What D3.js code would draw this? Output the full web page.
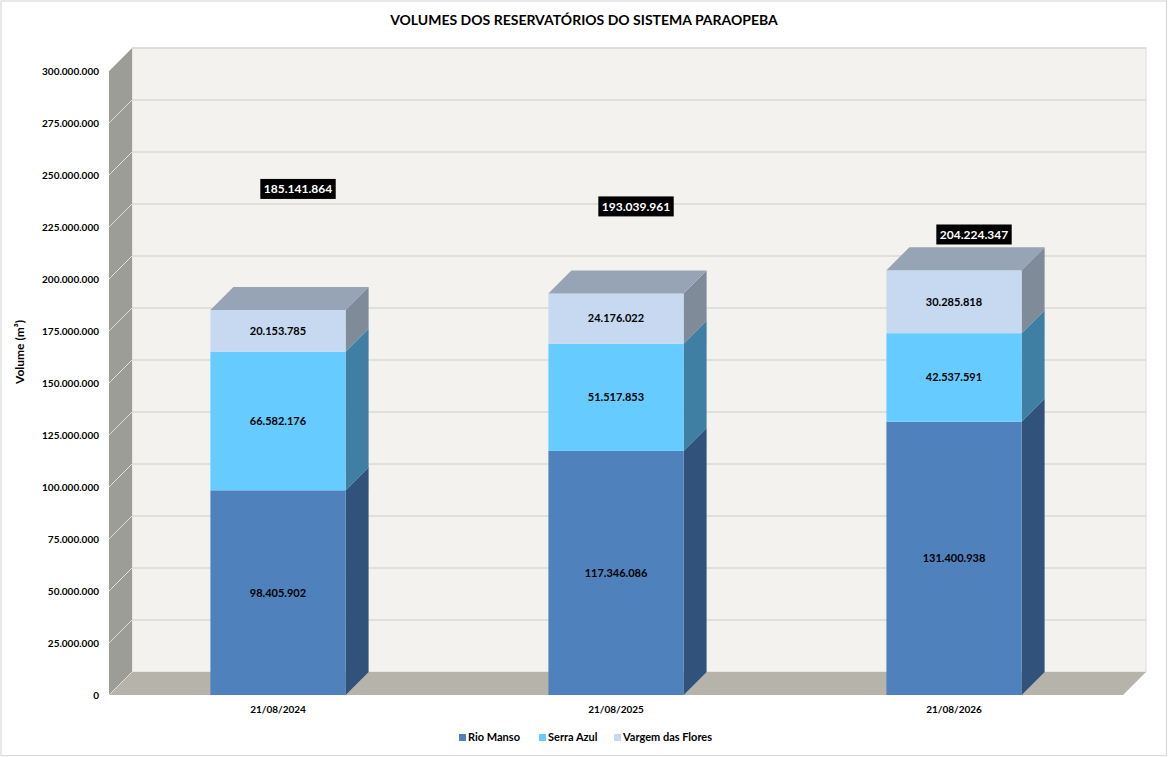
<!DOCTYPE html>
<html>
<head>
<meta charset="utf-8">
<script src="https://cdn.jsdelivr.net/npm/d3@7/dist/d3.min.js"></script>
<style>
  html, body { margin: 0; padding: 0; background: #fff; }
  svg { display: block; font-family: Lato, "Open Sans", sans-serif; }
</style>
</head>
<body>
<svg id="chart" width="1168" height="757"></svg>
<script>
// ---- data ----
const categories = ["21/08/2024", "21/08/2025", "21/08/2026"];
const seriesNames = ["Rio Manso", "Serra Azul", "Vargem das Flores"];
const rioManso = [98405902, 117346086, 131400938];
const serraAzul = [66582176, 51517853, 42537591];
const vargemDasFlores = [20153785, 24176022, 30285818];
const totals = [185141864, 193039961, 204224347];
const yTicks = [0, 25000000, 50000000, 75000000, 100000000, 125000000, 150000000, 175000000, 200000000, 225000000, 250000000, 275000000, 300000000];
// anchor levels (in axis units) where the floating total labels sit
const totalLabelLevels = [243300000, 234900000, 221400000];

(function () {
// ---- layout / style ----
const W = 1168, H = 757;
const pLeft = 109, pRight = 1123, pBottom = 695, pTop = 71;
const DX = 23, DY = 23;
const frontColors = ["#4F81BD", "#66CCFF", "#C6D9F1"];
const sideColors  = ["#31527A", "#3F7FA4", "#7F8B98"];
const topColor = "#97A4B6";
const fmt = v => d3.format(",")(v).replace(/,/g, ".");
const pts = arr => arr.map(p => p.join(",")).join(" ");

const svg = d3.select("#chart");
const stackInput = categories.map((c, i) => ({cat: c, s0: rioManso[i], s1: serraAzul[i], s2: vargemDasFlores[i]}));
const stacked = d3.stack().keys(["s0", "s1", "s2"])(stackInput);

const y = d3.scaleLinear().domain([0, 300000000]).range([pBottom, pTop]);
const x = d3.scaleBand().domain(categories).range([pLeft, pRight]).paddingInner(0.6).paddingOuter(0.3);

// outer border
svg.append("rect").attr("x", 1).attr("y", 1).attr("width", W - 2.5).attr("height", H - 2.5)
  .attr("fill", "#fff").attr("stroke", "#D9D9D9").attr("stroke-width", 1.2);

// title
svg.append("text").attr("x", 584).attr("y", 25).attr("text-anchor", "middle")
  .attr("font-size", 14).attr("font-weight", "bold").attr("fill", "#000")
  .text("VOLUMES DOS RESERVATÓRIOS DO SISTEMA PARAOPEBA");

// back wall
svg.append("rect").attr("x", pLeft + DX).attr("y", y(300000000) - DY)
  .attr("width", pRight - pLeft).attr("height", y(0) - y(300000000))
  .attr("fill", "#F3F2EE").attr("stroke", "#DCDBD7").attr("stroke-width", 1);

// gridlines back wall
svg.append("g").selectAll("line").data(yTicks.slice(1)).join("line")
  .attr("x1", pLeft + DX).attr("x2", pRight + DX)
  .attr("y1", d => y(d) - DY).attr("y2", d => y(d) - DY)
  .attr("stroke", "#D9D9D6").attr("stroke-width", 1.3);

// left wall
svg.append("polygon")
  .attr("points", pts([[pLeft, y(300000000)], [pLeft + DX, y(300000000) - DY], [pLeft + DX, y(0) - DY], [pLeft, y(0)]]))
  .attr("fill", "#9D9D98");
svg.append("g").selectAll("line").data(yTicks.slice(1)).join("line")
  .attr("x1", pLeft).attr("x2", pLeft + DX)
  .attr("y1", d => y(d)).attr("y2", d => y(d) - DY)
  .attr("stroke", "#DEDDD9").attr("stroke-width", 1);

// floor
svg.append("polygon")
  .attr("points", pts([[pLeft, y(0)], [pLeft + DX, y(0) - DY], [pRight + DX, y(0) - DY], [pRight, y(0)]]))
  .attr("fill", "#B6B3AB");
svg.append("line").attr("x1", pLeft).attr("x2", pLeft + DX).attr("y1", y(0)).attr("y2", y(0) - DY)
  .attr("stroke", "#DEDDD9").attr("stroke-width", 1);

// y tick labels
svg.append("g").selectAll("text").data(yTicks).join("text")
  .attr("x", 99).attr("y", d => y(d)).attr("dy", "0.35em").attr("text-anchor", "end")
  .attr("font-size", 10).attr("font-weight", "bold").attr("fill", "#000")
  .text(d => fmt(d));

// y axis title
svg.append("text").attr("transform", "translate(24,352) rotate(-90)").attr("text-anchor", "middle")
  .attr("font-size", 12).attr("font-weight", "bold").attr("fill", "#000")
  .text("Volume (m³)");

// bars
const bw = x.bandwidth();
const gBars = svg.append("g");
categories.forEach((c, i) => {
  const x0 = x(c), x1 = x0 + bw;
  stacked.forEach((layer, k) => {
    const d = layer[i];
    const yb = y(d[0]), yt = y(d[1]);
    gBars.append("polygon")
      .attr("points", pts([[x1, yt], [x1 + DX, yt - DY], [x1 + DX, yb - DY], [x1, yb]]))
      .attr("fill", sideColors[k]);
    gBars.append("rect").attr("x", x0).attr("y", yt).attr("width", bw).attr("height", yb - yt)
      .attr("fill", frontColors[k]);
  });
  const yTopBar = y(stacked[stacked.length - 1][i][1]);
  gBars.append("polygon")
    .attr("points", pts([[x0, yTopBar], [x0 + DX, yTopBar - DY], [x1 + DX, yTopBar - DY], [x1, yTopBar]]))
    .attr("fill", topColor);
  stacked.forEach((layer, k) => {
    const d = layer[i];
    gBars.append("text").attr("x", x0 + bw / 2).attr("y", (y(d[0]) + y(d[1])) / 2).attr("dy", "0.35em")
      .attr("text-anchor", "middle").attr("font-size", 11).attr("font-weight", "bold").attr("fill", "#000")
      .text(fmt(d.data["s" + k]));
  });
});

// total labels
const totalG = svg.append("g");
categories.forEach((c, i) => {
  const cx = x(c) + bw / 2 + 20, cy = y(totalLabelLevels[i]);
  const t = totalG.append("text").attr("x", cx).attr("y", cy).attr("dy", "0.36em").attr("text-anchor", "middle")
    .attr("font-size", 12).attr("font-weight", "bold").attr("fill", "#fff").text(fmt(totals[i]));
  const bb = t.node().getBBox();
  totalG.insert("rect", "text").attr("x", bb.x - 3.5).attr("y", cy - 10).attr("width", bb.width + 7).attr("height", 20)
    .attr("fill", "#000");
});

// x labels
svg.append("g").selectAll("text").data(categories).join("text")
  .attr("x", d => x(d) + bw / 2).attr("y", 713).attr("text-anchor", "middle")
  .attr("font-size", 10).attr("font-weight", "bold").attr("fill", "#000").text(d => d);

// legend
const legendX = [459, 539, 614];
const lg = svg.append("g");
seriesNames.forEach((n, k) => {
  lg.append("rect").attr("x", legendX[k]).attr("y", 734).attr("width", 7).attr("height", 7).attr("fill", frontColors[k]);
  lg.append("text").attr("x", legendX[k] + 9).attr("y", 741).attr("font-size", 11).attr("font-weight", "bold")
    .attr("fill", "#000").text(n);
});
})();
</script>
</body>
</html>
